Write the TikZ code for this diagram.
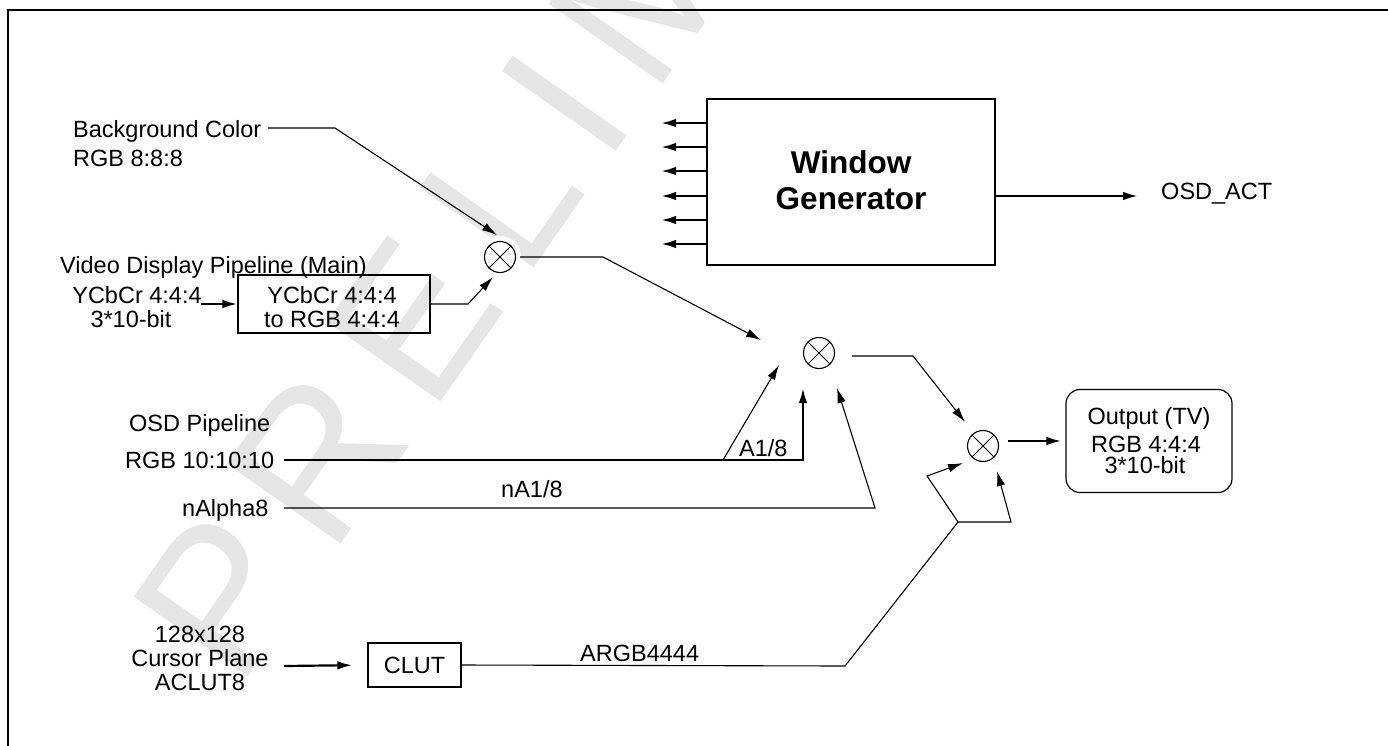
\documentclass[tikz,border=0pt]{standalone}
\usepackage{fontspec}
\setmainfont{Liberation Sans}
\usetikzlibrary{arrows.meta}
\newcommand{\wmgap}{\hspace{28pt}}
\tikzset{
  lbl/.style={font=\fontsize{23.5}{24}\selectfont, inner sep=0pt, anchor=base west},
  lblc/.style={font=\fontsize{23.5}{24}\selectfont, inner sep=0pt, anchor=base},
  wgtxt/.style={font=\bfseries\fontsize{31.5}{36}\selectfont, inner sep=0pt, anchor=base},
  wire/.style={line width=1.1pt},
  bus/.style={line width=2.2pt},
  arr/.style={-{Latex[length=15pt,width=8.5pt]}},
  mult/.style={circle, draw, line width=1.1pt, minimum size=31pt, inner sep=0pt},
  blk/.style={draw, line width=1.2pt, inner sep=0pt},
  wmark/.style={rotate=55, anchor=base west, text=black!10, inner sep=0pt,
                font=\fontsize{202}{202}\selectfont},
}
\begin{document}
\begin{tikzpicture}[x=1pt, y=-1pt]
\useasboundingbox (0,0) rectangle (1388,745);
% watermark
\node[wmark] (wm) at (238.5,691)
  {P\wmgap R\wmgap E\wmgap L\wmgap I\wmgap M\wmgap I\wmgap N\wmgap A\wmgap R\wmgap Y};
% frame
\draw[line width=2pt] (8,760) -- (8,10) -- (1400,10);

% ---------- left inputs ----------
\node[lbl] (bg) at (73,137) {Background Color};
\node[lbl] (bgfmt) at (73,166) {RGB 8:8:8};
\node[lbl] (vdp) at (60,273) {Video Display Pipeline (Main)};
\node[lblc] (vin1) at (137,303) {YCbCr 4:4:4};
\node[lblc] (vin2) at (131,327) {3*10-bit};
\node[lbl] (osdp) at (129,431) {OSD Pipeline};
\node[lbl] (rgb) at (125,468) {RGB 10:10:10};
\node[lbl] (nalpha) at (182,516) {nAlpha8};
\node[lblc] (cur1) at (200,642) {128x128};
\node[lblc] (cur2) at (200,666) {Cursor Plane};
\node[lblc] (cur3) at (200,690) {ACLUT8};

% ---------- blocks ----------
\node[blk, minimum width=192pt, minimum height=58pt] (conv) at (334,304) {};
\node[lblc] (conv1) at (332,303) {YCbCr 4:4:4};
\node[lblc] (conv2) at (332,327) {to RGB 4:4:4};

\node[blk, minimum width=93pt, minimum height=44pt,
      font=\fontsize{23.5}{24}\selectfont] (clut) at (414.5,665) {CLUT};

\node[draw, line width=2.5pt, minimum width=288pt, minimum height=166pt,
      inner sep=0pt] (wg) at (851,182) {};
\node[wgtxt] (wg1) at (851,173) {Window};
\node[wgtxt] (wg2) at (851,209) {Generator};
\node[lbl] (osdact) at (1161,199.5) {OSD\_ACT};

\node[blk, rounded corners=14pt, minimum width=166pt, minimum height=103pt] (out) at (1149,441) {};
\node[lblc] (out1) at (1149,424) {Output (TV)};
\node[lblc] (out2) at (1146,452) {RGB 4:4:4};
\node[lblc] (out3) at (1145,473) {3*10-bit};

% ---------- multipliers ----------
\fill[white] (500,257) circle [radius=21pt];
\node[mult] (m1) at (500,257) {};
\node[mult] (m2) at (819,353) {};
\node[mult] (m3) at (983,446) {};
\foreach \m in {m1,m2,m3}
  \draw[line width=0.9pt] (\m.45) -- (\m.225) (\m.135) -- (\m.315);

% ---------- labels on wires ----------
\node[lbl] (a18) at (739,456) {A1/8};
\node[lbl] (na18) at (501,497) {nA1/8};
\node[lbl] (argb) at (580,661) {ARGB4444};

% ---------- coordinates ----------
\coordinate (bg-s) at (268,128);
\coordinate (bg-c) at (335,128);
\coordinate (m1-in1) at (497,235);
\coordinate (vin-a) at (201,304);
\coordinate (c1) at (468,304);
\coordinate (m1-in2) at (493,277);
\coordinate (c2) at (603,257);
\coordinate (m2-in1) at (761,340);
\coordinate (rgb-s) at (284,460);
\coordinate (rgb-j) at (706,460);
\coordinate (rgb-d) at (723,460);
\coordinate (rgb-k) at (803,460);
\coordinate (m2-in2) at (779,365);
\coordinate (m2-in3) at (803,388);
\coordinate (na-s) at (284,508);
\coordinate (na-c) at (875,508);
\coordinate (m2-in4) at (837,388);
\coordinate (m2-o) at (852,356);
\coordinate (c3) at (913,356);
\coordinate (m3-in1) at (965,422);
\coordinate (cur-a) at (284,666);
\coordinate (ar-c) at (845,666);
\coordinate (ar-j) at (958,522);
\coordinate (ar-r) at (1011,522);
\coordinate (m3-in3) at (997,471);
\coordinate (ar-l) at (927,476);
\coordinate (m3-in2) at (963,463);
\coordinate (m3-o) at (1008,441);
\coordinate (act) at (1138,196);

% ---------- connectors ----------
\draw[wire, arr] (bg-s) -- (bg-c) -- (m1-in1);
\draw[bus, arr] (vin-a) -- (conv.west);
\draw[wire, arr] (conv.east) -- (c1) -- (m1-in2);
\draw[wire, arr, shorten <=4pt] (m1.east) -- (c2) -- (m2-in1);
\draw[wire] (rgb-s) -- (rgb-j);
\draw[bus, arr] (rgb-j) -- (rgb-k) -- (m2-in3);
\draw[wire, arr] (rgb-d) -- (m2-in2);
\draw[wire, arr] (na-s) -- (na-c) -- (m2-in4);
\draw[wire, arr] (m2-o) -- (c3) -- (m3-in1);
\draw[bus, arr, shorten >=15pt] (cur-a) -- (clut.west);
\draw[wire, arr] (clut.east) -- (ar-c) -- (ar-j) -- (ar-r) -- (m3-in3);
\draw[wire, arr] (ar-j) -- (ar-l) -- (m3-in2);
\draw[bus, arr, shorten >=4pt] (m3-o) -- (out.west);
\foreach \yy in {123,147,171,196,220,244}
  \draw[bus, arr] (wg.west |- 0,\yy) -- (661,\yy);
\draw[bus, arr] (wg.east |- 0,196) -- (act);
\end{tikzpicture}
\end{document}
